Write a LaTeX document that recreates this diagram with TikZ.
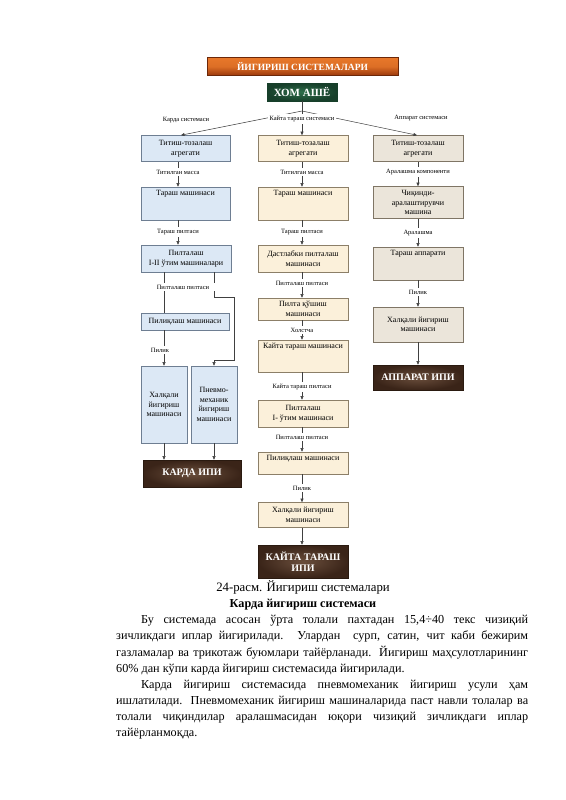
\documentclass[tikz,border=0pt]{standalone}
\usepackage{fontspec}
\setmainfont{Liberation Serif}
\usetikzlibrary{arrows.meta,calc}
\definecolor{kbf}{HTML}{DCE8F5}
\definecolor{kbd}{HTML}{6E7E92}
\definecolor{mbf}{HTML}{FBF0DA}
\definecolor{mbd}{HTML}{8C7F68}
\definecolor{abf}{HTML}{EBE5DA}
\definecolor{abd}{HTML}{7F7565}
\definecolor{lnc}{HTML}{404040}
\definecolor{dkin}{HTML}{6A4E3C}
\definecolor{dkout}{HTML}{3A2418}
\definecolor{dkd}{HTML}{2A1A10}
\definecolor{grin}{HTML}{2E6E4A}
\definecolor{grout}{HTML}{173F2A}
\definecolor{ortop}{HTML}{E8782A}
\definecolor{orbot}{HTML}{9A380C}
\newcommand{\bxf}{\fontsize{8}{9.5}\selectfont}
\newcommand{\lbf}{\fontsize{6.5}{7.5}\selectfont}
\newcommand{\dkf}{\bfseries\fontsize{10}{11.5}\selectfont}
\newcommand{\txf}{\fontsize{12.2}{15}\selectfont}
\newcommand{\cpf}{\fontsize{12.8}{15}\selectfont}
\begin{document}
\begin{tikzpicture}[x=1pt,y=-1pt,
  base/.style={line width=0.6pt, minimum width=90pt, inner sep=1pt, align=center, font=\bxf},
  kbox/.style={base, draw=kbd, fill=kbf},
  mbox/.style={base, draw=mbd, fill=mbf},
  abox/.style={base, draw=abd, fill=abf},
  toptext/.style={label={[anchor=north, yshift=-2.5pt, font=\bxf, inner sep=1pt, align=center]north:#1}},
  lab/.style={font=\lbf, inner sep=2pt, fill=white},
  ln/.style={draw=lnc, line width=0.5pt},
  arr/.style={ln, -{Triangle[length=3.5pt,width=3pt]}},
  dk/.style={draw=dkd, line width=0.6pt, text=white, font=\dkf, align=center, inner sep=1pt, inner color=dkin, outer color=dkout},
  txt/.style={anchor=base west, inner sep=0pt, font=\txf}]
\useasboundingbox (0,0) rectangle (565,800);

% title and raw material
\node[draw=orbot!70!black, line width=0.6pt, top color=ortop, bottom color=orbot, middle color=ortop!85!orbot,
      minimum width=191pt, minimum height=18pt, inner sep=0pt, text=white, font=\bfseries\fontsize{9.5}{11}\selectfont] (ttl) at (302.5,66.5) {ЙИГИРИШ СИСТЕМАЛАРИ};
\node[draw=grout, line width=0.6pt, inner color=grin, outer color=grout, minimum width=70pt, minimum height=18pt,
      inner sep=0pt, text=white, font=\bfseries\fontsize{11}{12}\selectfont] (hom) at (302,92) {ХОМ АШЁ};

% ---------- left column: Карда ----------
\node[kbox, minimum width=89pt, minimum height=26pt] (kb1) at (185.5,148.5) {Титиш-тозалаш\\агрегати};
\node[kbox, minimum width=89pt, minimum height=33pt, toptext={Тараш машинаси}] (kb2) at (185.5,203.5) {};
\node[kbox, minimum width=90pt, minimum height=27pt] (kb3) at (186,258.5) {Пилталаш\\I-II ўтим машиналари};
\node[kbox, minimum width=88pt, minimum height=17pt] (kb4) at (185,321.5) {Пилиқлаш машинаси};
\node[kbox, minimum width=46pt, minimum height=77pt] (kb5) at (164,404.5) {Халқали\\йигириш\\машинаси};
\node[kbox, minimum width=46pt, minimum height=77pt] (kb6) at (214,404.5) {Пневмо-\\механик\\йигириш\\машинаси};
\node[dk, minimum width=98pt, minimum height=27pt] (kip) at (192,473.5) {КАРДА ИПИ};

% ---------- middle column: Кайта тараш ----------
\node[mbox, minimum height=26pt] (mb1) at (303,148.5) {Титиш-тозалаш\\агрегати};
\node[mbox, minimum height=33pt, toptext={Тараш машинаси}] (mb2) at (303,203.5) {};
\node[mbox, minimum height=27pt] (mb3) at (303,258.5) {Дастлабки пилталаш\\машинаси};
\node[mbox, minimum height=22pt] (mb4) at (303,309) {Пилта қўшиш\\машинаси};
\node[mbox, minimum height=32pt, toptext={Кайта тараш машинаси}] (mb5) at (303,356) {};
\node[mbox, minimum height=27pt] (mb6) at (303,413.5) {Пилталаш\\I- ўтим машинаси};
\node[mbox, minimum height=22pt, toptext={Пилиқлаш машинаси}] (mb7) at (303,463) {};
\node[mbox, minimum height=25pt] (mb8) at (303,515) {Халқали йигириш\\машинаси};
\node[dk, minimum width=90pt, minimum height=33pt] (mip) at (303,561.5) {КАЙТА ТАРАШ\\ИПИ};

% ---------- right column: Аппарат ----------
\node[abox, minimum height=26pt] (ab1) at (418,148.5) {Титиш-тозалаш\\агрегати};
\node[abox, minimum height=32pt, font=\fontsize{8}{9.2}\selectfont] (ab2) at (418,202.5) {Чиқинди-\\аралаштирувчи\\машина};
\node[abox, minimum height=33pt, toptext={Тараш аппарати}] (ab3) at (418,263.5) {};
\node[abox, minimum height=35pt] (ab4) at (418,324.5) {Халқали йигириш\\машинаси};
\node[dk, minimum width=90pt, minimum height=25pt] (aip) at (418,377.5) {АППАРАТ ИПИ};

% ---------- fan from raw material ----------
\coordinate (fork) at (302,111);
\draw[arr] (fork) -- ([xshift=-4.5pt]kb1.north);
\draw[arr] (fork) -- ([xshift=-1pt]ab1.north);
\node[lab] (kl) at (186,120) {Карда системаси};
\node[lab] (ml) at (302,119) {Кайта тараш системаси};
\node[lab] (al) at (421,118) {Аппарат системаси};
\draw[ln] (hom.south) -- (hom.south |- ml.north);
\draw[arr] (ml.south) -- (ml.south |- mb1.north);

% ---------- left connectors ----------
\node[lab] (klab1) at (178,172) {Титилган масса};
\node[lab] (klab2) at (178,232) {Тараш пилтаси};
\node[lab] (klab3) at (183,287) {Пилталаш пилтаси};
\node[lab] (klab4) at (160,350) {Пилик};
\draw[ln] (kb1.south -| klab1) -- (klab1.north);
\draw[arr] (klab1.south) -- (klab1.south |- kb2.north);
\draw[ln] (kb2.south -| klab2) -- (klab2.north);
\draw[arr] (klab2.south) -- (klab2.south |- kb3.north);
\draw[ln] (kb3.south -| kb5) -- (klab3.north -| kb5);
\draw[ln] (klab3.south -| kb5) -- (kb4.north -| kb5);
\draw[ln] (kb3.south -| kb6) -- (klab3.north -| kb6);
\coordinate (e1) at (234,297);
\coordinate (e2) at (234,360);
\draw[arr] (klab3.south -| kb6) |- (e1) -- (e2) -| (kb6.north);
\draw[ln] (kb4.south -| kb5) -- (klab4.north -| kb5);
\draw[arr] (klab4.south -| kb5) -- (kb5.north);
\draw[arr] (kb5.south) -- (kb5.south |- kip.north);
\draw[arr] (kb6.south) -- (kb6.south |- kip.north);

% ---------- middle connectors ----------
\node[lab] (mlab1) at (302,172) {Титилган масса};
\node[lab] (mlab2) at (302,232) {Тараш пилтаси};
\node[lab] (mlab3) at (302,283) {Пилталаш пилтаси};
\node[lab] (mlab4) at (302,330) {Холстча};
\node[lab] (mlab5) at (302,387) {Кайта тараш пилтаси};
\node[lab] (mlab6) at (302,437) {Пилталаш пилтаси};
\node[lab] (mlab7) at (302,488) {Пилик};
\foreach \a/\l/\b in {mb1/mlab1/mb2, mb2/mlab2/mb3, mb3/mlab3/mb4, mb4/mlab4/mb5, mb5/mlab5/mb6, mb6/mlab6/mb7, mb7/mlab7/mb8}{
  \draw[ln] (\a.south -| \l) -- (\l.north);
  \draw[arr] (\l.south) -- (\l.south |- \b.north);
}
\draw[arr] (mb8.south -| mlab7) -- (mip.north -| mlab7);

% ---------- right connectors ----------
\node[lab] (alab1) at (418,172) {Аралашма компоненти};
\node[lab] (alab2) at (418,233) {Аралашма};
\node[lab] (alab3) at (418,292) {Пилик};
\foreach \a/\l/\b in {ab1/alab1/ab2, ab2/alab2/ab3, ab3/alab3/ab4}{
  \draw[ln] (\a.south -| \l) -- (\l.north);
  \draw[arr] (\l.south) -- (\l.south |- \b.north);
}
\draw[arr] (ab4.south) -- (ab4.south |- aip.north);

% ---------- caption and text ----------
\node[anchor=base, inner sep=0pt, font=\cpf] (cap) at (303,591) {24-расм. Йигириш системалари};
\node[anchor=base, inner sep=0pt, font=\txf\bfseries] (hd) at (303,607) {Карда йигириш системаси};
\node[txt] (p1) at (141,623.5) {\makebox[387pt][s]{Бу системада асосан ўрта толали пахтадан 15,4÷40 текс чизиқий}};
\node[txt] (p2) at (116,639.7) {\makebox[412pt][s]{зичликдаги иплар йигирилади. Улардан \ сурп, сатин, чит каби бежирим}};
\node[txt] (p3) at (116,656) {\makebox[412pt][s]{газламалар ва трикотаж буюмлари тайёрланади. Йигириш маҳсулотларининг}};
\node[txt] (p4) at (116,672) {60\% дан кўпи карда йигириш системасида йигирилади.};
\node[txt] (p5) at (141,688) {\makebox[387pt][s]{Карда йигириш системасида пневмомеханик йигириш усули ҳам}};
\node[txt] (p6) at (116,704) {\makebox[412pt][s]{ишлатилади. Пневмомеханик йигириш машиналарида паст навли толалар ва}};
\node[txt] (p7) at (116,720) {\makebox[412pt][s]{толали чиқиндилар аралашмасидан юқори чизиқий зичликдаги иплар}};
\node[txt] (p8) at (116,736) {тайёрланмоқда.};
\end{tikzpicture}
\end{document}
